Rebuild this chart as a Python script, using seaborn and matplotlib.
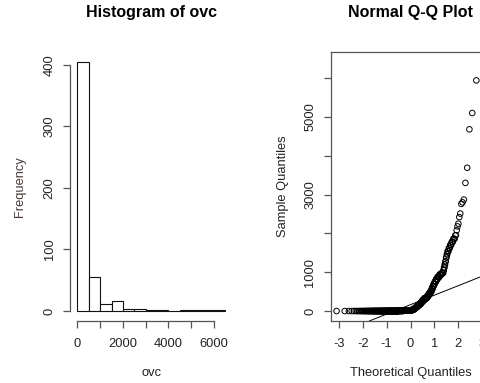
import numpy as np
import pandas as pd
import matplotlib
matplotlib.use("Agg")
import matplotlib.pyplot as plt
import seaborn as sns
from statistics import NormalDist

# Sorted ovc observations, stored as (value, number of repeats)
ovc_value = [0, 5, 10, 15, 20, 30, 40, 50, 60, 80, 100, 120, 150, 180, 210,
             250, 290, 330, 370, 410, 450, 490,
             530, 580, 640, 700, 760, 820, 880, 940, 980,
             1050, 1120, 1200, 1280, 1380, 1460,
             1540, 1620, 1700, 1780, 1860, 1950,
             2080, 2180, 2250, 2420,
             2510, 2760, 2800, 2870,
             3300, 3690, 4680, 5100, 5940, 6420]
ovc_count = [155, 37, 40, 20, 10, 10, 6, 6, 4, 8, 8, 7, 12, 9, 9,
             10, 11, 16, 7, 7, 7, 6,
             4, 5, 5, 6, 6, 7, 8, 8, 6,
             2, 2, 2, 2, 2, 2,
             3, 3, 3, 3, 3, 2,
             1, 1, 1, 1,
             1, 1, 1, 1,
             1, 1, 1, 1, 1, 1]

hist_breaks = list(range(0, 7000, 500))
hist_xticks = [0, 1000, 2000, 3000, 4000, 5000, 6000]
hist_xticklabels = ["0", "", "2000", "", "4000", "", "6000"]
hist_yticks = [0, 100, 200, 300, 400]
qq_xticks = [-3, -2, -1, 0, 1, 2, 3]
qq_yticks = [0, 1000, 2000, 3000, 4000, 5000, 6000]
qq_yticklabels = ["0", "1000", "", "3000", "", "5000", ""]

ovc = np.repeat(np.array(ovc_value, dtype=float), ovc_count)
n = len(ovc)
nd = NormalDist()
theo = np.array([nd.inv_cdf((i - 0.5) / n) for i in range(1, n + 1)])
qq = pd.DataFrame({"theoretical": theo, "sample": np.sort(ovc)})

# reference line through the first and third quartiles
q1, q3 = np.quantile(ovc, [0.25, 0.75])
z1, z3 = nd.inv_cdf(0.25), nd.inv_cdf(0.75)
slope = (q3 - q1) / (z3 - z1)
intercept = q1 - slope * z1

sns.set_theme(style="white")
plt.rcParams["font.family"] = ["Liberation Sans", "DejaVu Sans"]
plt.rcParams["axes.unicode_minus"] = False
ink = "#222222"
axis_col = "#555555"

W, H = 481, 383
fig = plt.figure(figsize=(W / 100, H / 100), dpi=100)
fig.patch.set_facecolor("white")

def frac(x0, y0, x1, y1):
    return [x0 / W, 1 - y1 / H, (x1 - x0) / W, (y1 - y0) / H]

# ---- histogram ----
ax1 = fig.add_axes(frac(71.4, 51.8, 231.4, 321.0))
sns.histplot(x=ovc, bins=hist_breaks, stat="count", color="white",
             edgecolor="#111111", linewidth=0.8, alpha=1, ax=ax1)
ax1.set_xlim(-260, 6760)
ax1.set_ylim(-16.2, 421.2)
ax1.set_xticks(hist_xticks)
ax1.set_xticklabels(hist_xticklabels)
ax1.set_yticks(hist_yticks)
for s in ["top", "right"]:
    ax1.spines[s].set_visible(False)
ax1.spines["left"].set_bounds(0, 400)
ax1.spines["bottom"].set_bounds(0, 6000)
ax1.spines["left"].set_position(("outward", 1))
ax1.spines["bottom"].set_position(("outward", 0))
ax1.set_title("Histogram of ovc", fontsize=11.5, fontweight="bold",
              color="black", pad=25)
ax1.set_xlabel("ovc", fontsize=9.3, color=ink, labelpad=12)
ax1.set_ylabel("Frequency", fontsize=9.3, color="#4a3a3a", labelpad=13)

# ---- normal Q-Q plot ----
ax2 = fig.add_axes(frac(330.7, 51.8, 490.4, 321.0))
sns.scatterplot(data=qq, x="theoretical", y="sample", marker="o",
                facecolors="none", edgecolor="black", linewidth=0.7,
                s=16, ax=ax2)
ax2.axline((0, intercept), slope=slope, color="black", linewidth=0.7)
ax2.set_xlim(-3.337, 3.337)
ax2.set_ylim(-256.8, 6676.8)
ax2.set_xticks(qq_xticks)
ax2.set_yticks(qq_yticks)
ax2.set_yticklabels(qq_yticklabels)
ax2.set_title("Normal Q-Q Plot", fontsize=11.5, fontweight="bold",
              color="black", pad=25)
ax2.set_xlabel("Theoretical Quantiles", fontsize=9.3, color=ink, labelpad=12)
ax2.set_ylabel("Sample Quantiles", fontsize=9.3, color=ink, labelpad=11)

for ax in (ax1, ax2):
    for s in ax.spines.values():
        s.set_color(axis_col)
        s.set_linewidth(0.9)
    ax.tick_params(axis="both", which="major", direction="out", length=5.3,
                   width=0.9, color=axis_col, labelsize=9.3, labelcolor=ink,
                   bottom=True, left=True)
    ax.tick_params(axis="x", pad=7)
    ax.tick_params(axis="y", pad=5)
    for lab in ax.get_yticklabels():
        lab.set_rotation(90)
        lab.set_va("center")

fig.savefig("out.png", dpi=100, facecolor="white")
